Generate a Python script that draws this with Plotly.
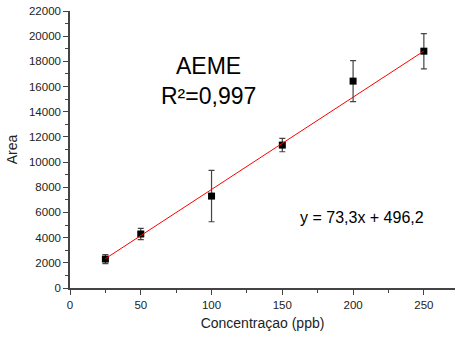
import plotly.graph_objects as go

conc = [25, 50, 100, 150, 200, 250]
area = [2300, 4290, 7300, 11350, 16430, 18810]
area_err = [360, 450, 2040, 530, 1630, 1400]
slope = 73.3
intercept = 496.2
fit_x = [25, 250]
fit_y = [slope * x + intercept for x in fit_x]

font = "Liberation Sans, Arial, sans-serif"

fig = go.Figure()
fig.add_trace(go.Scatter(x=conc, y=area, mode="markers",
                         marker=dict(symbol="square", size=7, color="black"),
                         error_y=dict(type="data", array=area_err, color="#444", thickness=1.2, width=3),
                         showlegend=False))
fig.add_trace(go.Scatter(x=fit_x, y=fit_y, mode="lines",
                         line=dict(color="red", width=1), showlegend=False))

fig.update_layout(
    width=457, height=338,
    margin=dict(l=70, r=2, t=11, b=50),
    plot_bgcolor="white", paper_bgcolor="white",
    font=dict(family=font, color="#222", size=11.5),
    xaxis=dict(range=[0, 272], tickvals=[0, 50, 100, 150, 200, 250], tickformat="d",
               ticks="outside", ticklen=5, tickcolor="#444", automargin=False,
               minor=dict(tickvals=[25, 75, 125, 175, 225, 275], ticks="outside", ticklen=3, tickcolor="#444"),
               showline=True, linecolor="#444", linewidth=1.5, showgrid=False, zeroline=False,
               title=dict(text="Concentraçao (ppb)", font=dict(size=14), standoff=9)),
    yaxis=dict(range=[0, 22000], tickvals=list(range(0, 22001, 2000)), tickformat="d",
               ticks="outside", ticklen=5, tickcolor="#444", automargin=False,
               minor=dict(tickvals=list(range(1000, 22000, 2000)), ticks="outside", ticklen=3, tickcolor="#444"),
               showline=True, linecolor="#444", linewidth=1.5, showgrid=False, zeroline=False,
               title=dict(text="Area", font=dict(size=14), standoff=8)),
    annotations=[
        dict(x=(208 - 70) / 385, y=(288 - 81.5) / 277, xref="paper", yref="paper", text="AEME<br>R²=0,997",
             xanchor="center", yanchor="middle",
             showarrow=False, font=dict(size=23, color="black"), align="center"),
        dict(x=(362 - 70) / 385, y=(288 - 217) / 277, xref="paper", yref="paper", text="y = 73,3x + 496,2",
             xanchor="center", yanchor="middle",
             showarrow=False, font=dict(size=16, color="black")),
    ],
)
fig.write_html("out.html", config={"displayModeBar": False},
               post_script="document.body.style.margin='0';document.body.style.overflow='hidden';")
